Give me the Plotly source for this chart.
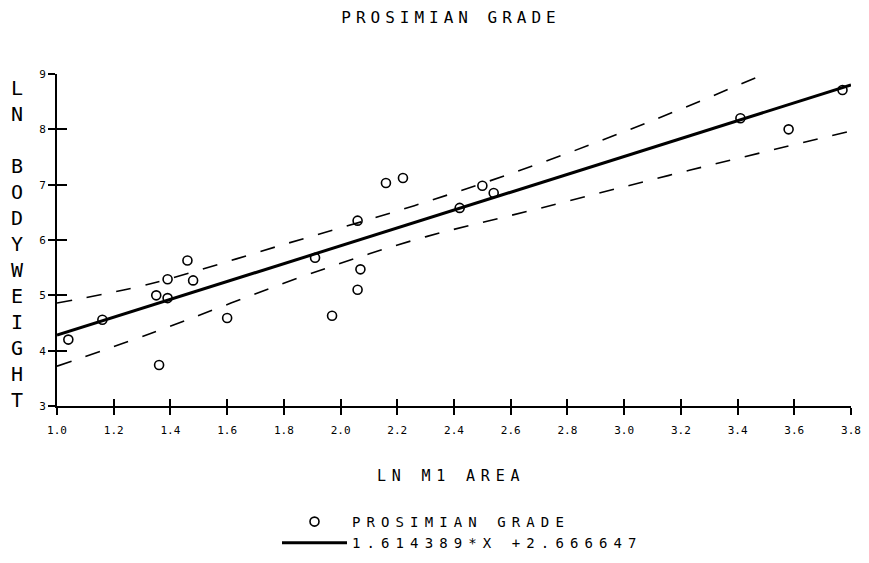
import plotly.graph_objects as go

# Observed data (LN M1 AREA vs LN BODYWEIGHT)
ln_m1_area = [1.04, 1.16, 1.35, 1.39, 1.39, 1.46, 1.48, 1.36, 1.60,
              1.91, 2.06, 2.07, 2.06, 1.97, 2.16, 2.22, 2.42, 2.50, 2.54,
              3.41, 3.58, 3.77]
ln_bodyweight = [4.20, 4.56, 5.00, 4.95, 5.29, 5.63, 5.27, 3.74, 4.59,
                 5.68, 6.35, 5.47, 5.10, 4.63, 7.03, 7.12, 6.58, 6.98, 6.85,
                 8.20, 8.00, 8.71]

# Fitted regression line 1.614389*X + 2.666647 (end points)
fit_x = [1.0, 3.8]
fit_y = [4.281, 8.801]

# Confidence band (dashed)
upper_x = [1.00, 1.33, 1.80, 2.26, 2.70, 3.11, 3.50]
upper_y = [4.86, 5.21, 5.92, 6.62, 7.38, 8.18, 9.01]
lower_x = [1.00, 1.33, 1.86, 2.26, 2.70, 3.23, 3.80]
lower_y = [3.72, 4.31, 5.33, 6.00, 6.57, 7.26, 7.97]

x_ticks = [1.0, 1.2, 1.4, 1.6, 1.8, 2.0, 2.2, 2.4, 2.6, 2.8, 3.0, 3.2, 3.4, 3.6, 3.8]
x_tick_labels = ["1.0", "1.2", "1.4", "1.6", "1.8", "2.0", "2.2", "2.4", "2.6",
                 "2.8", "3.0", "3.2", "3.4", "3.6", "3.8"]
y_ticks = [3, 4, 5, 6, 7, 8, 9]
y_tick_labels = ["3", "4", "5", "6", "7", "8", "9"]

FONT = "DejaVu Sans Mono"

# page body has an 8px default margin: figure coords = screen coords - 8
W, H = 869, 563
ML, MR, MT, MB = 49, 26, 66, 165
PW = W - ML - MR
PH = H - MT - MB


def spaced(text, px):
    return f'<span style="letter-spacing:{px}px">{text}</span>'


fig = go.Figure()

fig.add_trace(go.Scatter(
    x=ln_m1_area, y=ln_bodyweight, mode="markers",
    name=spaced("PROSIMIAN GRADE", 6.1),
    marker=dict(symbol="circle-open", size=9, color="black", line=dict(width=1.6)),
))
fig.add_trace(go.Scatter(
    x=fit_x, y=fit_y, mode="lines",
    name=spaced("1.614389*X +2.666647", 6.1),
    line=dict(color="black", width=3),
))
fig.add_trace(go.Scatter(
    x=upper_x, y=upper_y, mode="lines", showlegend=False,
    line=dict(color="black", width=1.6, dash="15px,15px", shape="spline"),
))
fig.add_trace(go.Scatter(
    x=lower_x, y=lower_y, mode="lines", showlegend=False,
    line=dict(color="black", width=1.6, dash="15px,15px", shape="spline"),
))
# invisible trace on the secondary axes so they render
fig.add_trace(go.Scatter(x=[1.0], y=[3], xaxis="x2", yaxis="y2", mode="markers",
                         marker=dict(opacity=0), showlegend=False, hoverinfo="skip"))

fig.update_layout(
    width=W, height=H,
    paper_bgcolor="white", plot_bgcolor="white",
    margin=dict(l=ML, r=MR, t=MT, b=MB, autoexpand=False),
    font=dict(family=FONT, color="black"),
    title=dict(text=spaced("PROSIMIAN GRADE", 5), x=443 / W, xanchor="center",
               y=1 - 9 / H, yanchor="middle", font=dict(size=16, family=FONT)),
    xaxis=dict(
        range=[1.0, 3.8], tickvals=x_ticks, ticktext=x_tick_labels, automargin=False,
        showgrid=False, zeroline=False, showline=True, linecolor="black", linewidth=2,
        ticks="outside", ticklen=7, tickwidth=1.5, tickcolor="black",
        tickfont=dict(size=11, family=FONT), ticklabelstandoff=6,
    ),
    yaxis=dict(
        range=[3, 9], tickvals=y_ticks, ticktext=y_tick_labels, automargin=False,
        showgrid=False, zeroline=False, showline=True, linecolor="black", linewidth=2,
        ticks="outside", ticklen=7, tickwidth=1.5, tickcolor="black",
        tickfont=dict(size=11, family=FONT),
    ),
    xaxis2=dict(
        range=[1.0, 3.8], tickvals=x_ticks, overlaying="x", anchor="y", side="bottom",
        showgrid=False, zeroline=False, showline=False, showticklabels=False,
        automargin=False, ticks="inside", ticklen=7, tickwidth=1.5, tickcolor="black",
    ),
    yaxis2=dict(
        range=[3, 9], tickvals=y_ticks, overlaying="y", anchor="x", side="left",
        showgrid=False, zeroline=False, showline=False, showticklabels=False,
        automargin=False, ticks="inside", ticklen=10, tickwidth=1.5, tickcolor="black",
    ),
    legend=dict(
        xref="container", yref="container",
        x=269 / W, xanchor="left", y=1 - 498 / H, yanchor="top",
        font=dict(size=14, family=FONT), itemwidth=65,
        bgcolor="rgba(0,0,0,0)", tracegroupgap=0,
    ),
    showlegend=True,
)

# x-axis title
fig.add_annotation(
    text=spaced("LN M1 AREA", 5.8), xref="paper", yref="paper",
    x=(443 - ML) / PW, y=(H - MB - 468) / PH, xanchor="center", yanchor="middle",
    showarrow=False, font=dict(size=15, family=FONT),
)
# y-axis title, written vertically letter by letter
fig.add_annotation(
    text="L<br>N<br><br>B<br>O<br>D<br>Y<br>W<br>E<br>I<br>G<br>H<br>T",
    xref="paper", yref="paper", x=(9 - ML) / PW, y=(H - MB - 236) / PH,
    xanchor="center", yanchor="middle", showarrow=False,
    font=dict(size=20, family=FONT),
)

fig.write_html("out.html")
